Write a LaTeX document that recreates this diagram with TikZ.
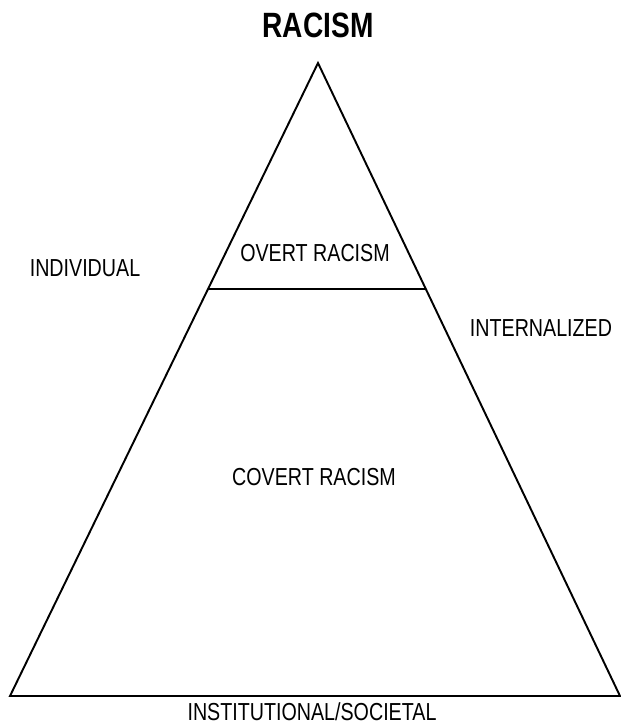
\documentclass[tikz,border=0pt]{standalone}
\usepackage{fontspec}
\setmainfont{Liberation Sans}[FakeStretch=0.8]
\usetikzlibrary{calc}
\begin{document}
\begin{tikzpicture}[x=0.02cm,y=-0.02cm,line width=1.1pt]
    \tikzset{
      lbl/.style={inner sep=0pt,font=\fontsize{14}{16}\selectfont},
      ttl/.style={inner sep=0pt,font=\fontsize{20}{22}\selectfont\bfseries}
    }
    \useasboundingbox (0,0) rectangle (621,727);
    % --- the triangle and the cut ---
    \coordinate (apex) at (318,63);
    \coordinate (bl) at (10,696);
    \coordinate (br) at (620,696);
    \coordinate (cutl) at ($(apex)!0.3576!(bl)$);
    \coordinate (cutr) at ($(apex)!0.3576!(br)$);
    \draw (apex) -- (bl) -- (br) -- cycle;
    \draw (cutl) -- (cutr);
    % --- labels ---
    \node[ttl] (title) at (318,25) {RACISM};
    \node[lbl] (overt) at (315,253) {OVERT RACISM};
    \node[lbl] (covert) at (314,477) {COVERT RACISM};
    \node[lbl] (indiv) at (85,268) {INDIVIDUAL};
    \node[lbl] (intern) at (541,328) {INTERNALIZED};
    \node[lbl] (inst) at (312,712) {INSTITUTIONAL/SOCIETAL};
  \end{tikzpicture}
\end{document}
